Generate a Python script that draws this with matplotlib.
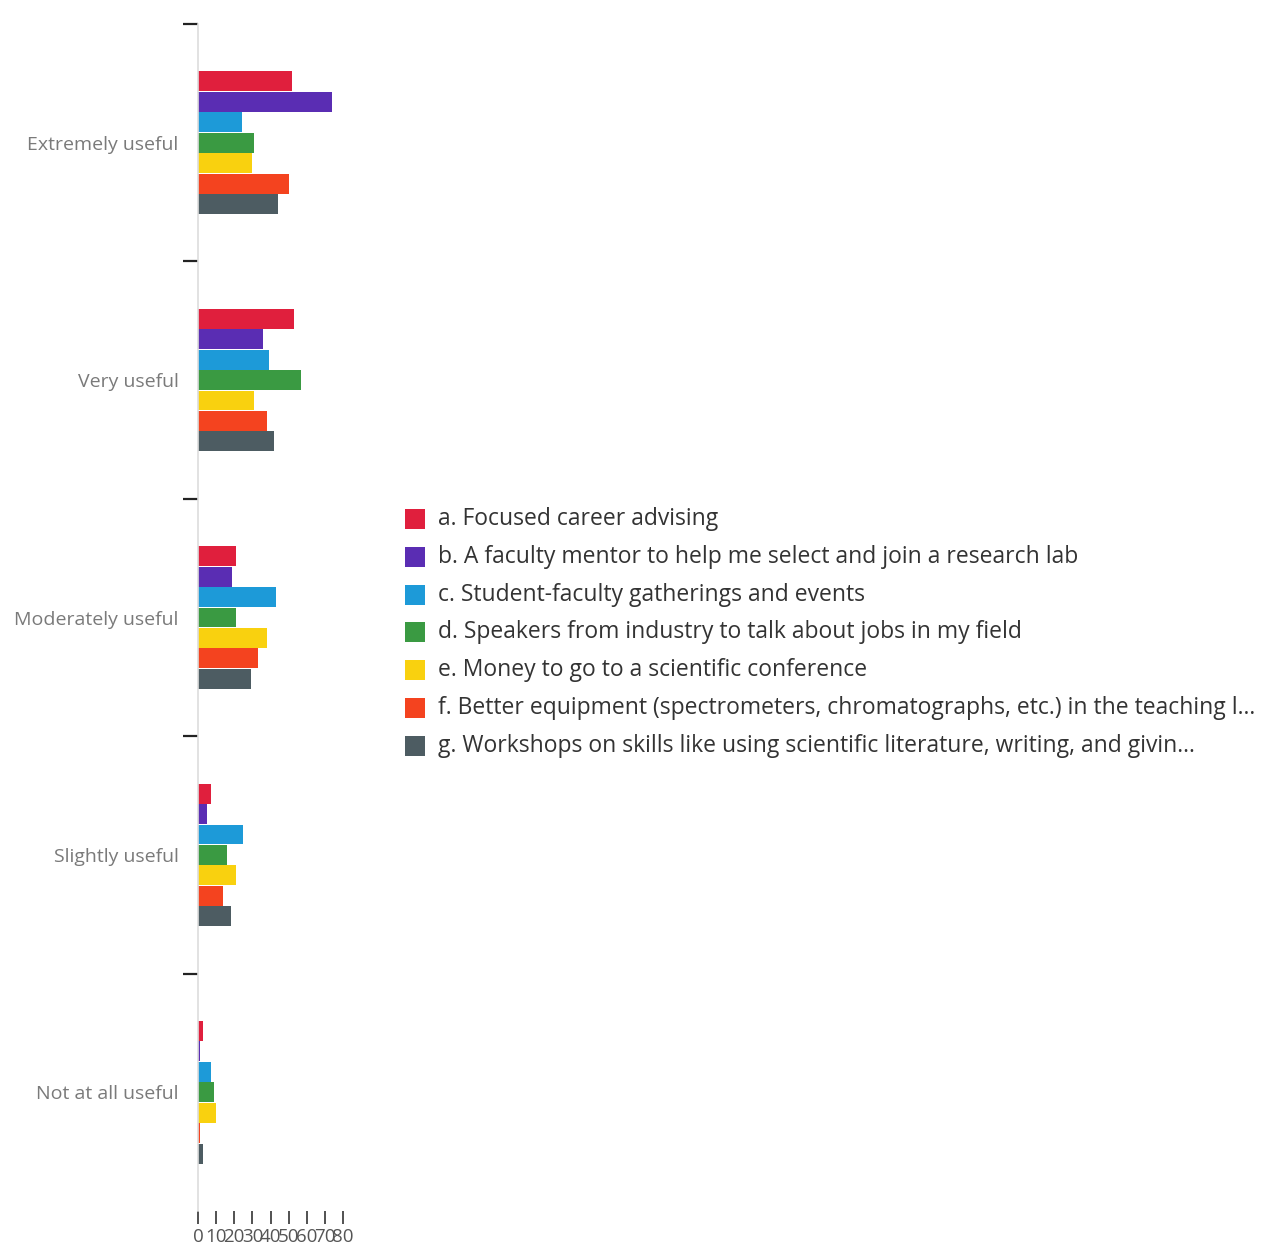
import matplotlib.pyplot as plt
from matplotlib.patches import Rectangle
import numpy as np

plt.rcParams['font.family'] = ['Open Sans', 'DejaVu Sans']

# Response categories (top to bottom)
categories = ['Extremely useful', 'Very useful', 'Moderately useful',
              'Slightly useful', 'Not at all useful']

# Counts per option, one list per series
focused_advising = [52, 53, 21, 7, 3]
faculty_mentor = [74, 36, 19, 5, 1]
gatherings = [24, 39, 43, 25, 7]
industry_speakers = [31, 57, 21, 16, 9]
conference_money = [30, 31, 38, 21, 10]
better_equipment = [50, 38, 33, 14, 1]
workshops = [44, 42, 29, 18, 3]

series_labels = [
    'a. Focused career advising',
    'b. A faculty mentor to help me select and join a research lab',
    'c. Student-faculty gatherings and events',
    'd. Speakers from industry to talk about jobs in my field',
    'e. Money to go to a scientific conference',
    'f. Better equipment (spectrometers, chromatographs, etc.) in the teaching l...',
    'g. Workshops on skills like using scientific literature, writing, and givin...',
]
series_values = [focused_advising, faculty_mentor, gatherings, industry_speakers,
                 conference_money, better_equipment, workshops]
colors = ['#e01f3d', '#5a2db3', '#1d9ad8', '#3a9a42', '#f9d10f', '#f4431f', '#4d5c62']

x_ticks = [0, 10, 20, 30, 40, 50, 60, 70, 80]

W, H = 1288, 1247
fig = plt.figure(figsize=(W / 100, H / 100), dpi=100)
ax = fig.add_axes([198 / W, 36 / H, 145 / W, (1211 - 24) / H])

n_series = len(series_values)
step = 0.086
bar_h = 0.084
y_base = np.arange(len(categories))
for i, (vals, col) in enumerate(zip(series_values, colors)):
    offset = (i - (n_series - 1) / 2) * step
    ax.barh(y_base + offset, vals, height=bar_h, color=col, edgecolor='none')

ax.set_xlim(0, 80)
ax.set_ylim(len(categories) - 0.5, -0.5)

# Category labels centred in each band, dashes at band tops
ax.set_yticks(y_base)
ax.set_yticklabels(categories, fontsize=14, color='#7a7a7a')
ax.tick_params(axis='y', which='major', length=0, pad=14)
ax.set_yticks(y_base - 0.5, minor=True)
ax.tick_params(axis='y', which='minor', length=11, width=1.6, color='#222222')

ax.set_xticks(x_ticks)
ax.set_xticklabels([str(t) for t in x_ticks], fontsize=13.5, color='#555555')
ax.tick_params(axis='x', length=9, width=1.2, color='#333333', pad=3)

for side in ['top', 'right', 'bottom']:
    ax.spines[side].set_visible(False)
ax.spines['left'].set_color('#dddddd')
ax.spines['left'].set_linewidth(1.2)

# Legend drawn beside the chart
row0 = 519
row_gap = 37.8
for i, (label, col) in enumerate(zip(series_labels, colors)):
    yc = row0 + i * row_gap
    fig.patches.append(Rectangle((405 / W, 1 - (yc + 10) / H), 20 / W, 20 / H,
                                 transform=fig.transFigure, facecolor=col,
                                 edgecolor='none'))
    fig.text(438 / W, 1 - yc / H, label, fontsize=16.5, color='#333333',
             ha='left', va='center')

fig.savefig('out.png', dpi=100, facecolor='white')
